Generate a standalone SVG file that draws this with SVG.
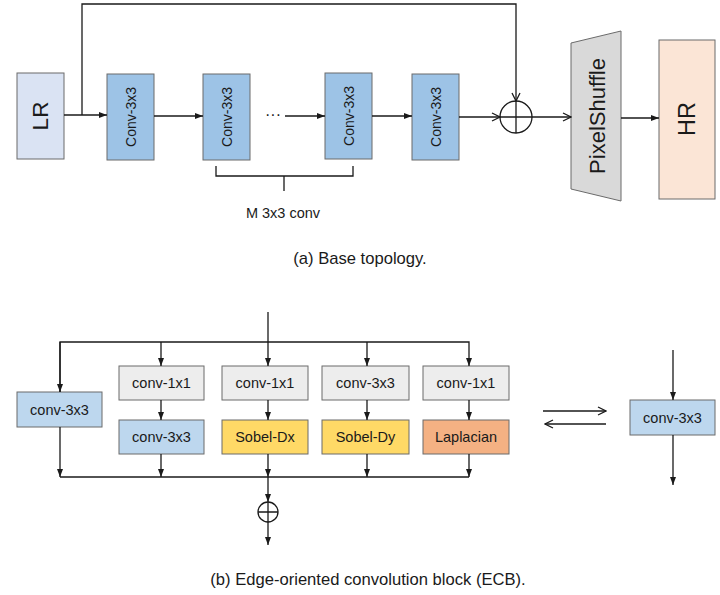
<svg xmlns="http://www.w3.org/2000/svg" width="720" height="595" viewBox="0 0 720 595">
<style>
.box{stroke:#6b6b6b;stroke-width:1}
.ln{fill:none;stroke:#1a1a1a;stroke-width:1.3}
.t{font-family:"Liberation Sans",Arial,sans-serif;fill:#1a1a1a;text-anchor:middle;dominant-baseline:central}
.s13{font-size:14.5px}
.v{font-size:14px}
.cap{font-family:"Liberation Sans",Arial,sans-serif;fill:#1a1a1a;text-anchor:middle;font-size:16.6px}
</style>
<defs>
<marker id="a" viewBox="0 0 8 6" refX="8" refY="3" markerWidth="8" markerHeight="6" markerUnits="userSpaceOnUse" orient="auto">
<path d="M0,0 L8,3 L0,6 Z" fill="#1a1a1a"/>
</marker>
<marker id="o" viewBox="0 0 10 10" refX="9" refY="5" markerWidth="10" markerHeight="10" markerUnits="userSpaceOnUse" orient="auto">
<path d="M1,1 L9,5 L1,9" fill="none" stroke="#1a1a1a" stroke-width="1.3"/>
</marker>
</defs>
<rect width="720" height="595" fill="#ffffff"/>

<!-- (a) -->
<g id="LR"><rect class="box" x="17" y="73" width="47" height="86" fill="#dae3f3"/>
<text class="t" font-size="22.5" transform="translate(40.5,116) rotate(-90)">LR</text></g>
<g id="conv1"><rect class="box" x="107" y="74" width="47" height="86" fill="#9dc3e6"/>
<text class="t v" transform="translate(130.5,117) rotate(-90)">Conv-3x3</text></g>
<g id="conv2"><rect class="box" x="203" y="74" width="47" height="86" fill="#9dc3e6"/>
<text class="t v" transform="translate(226.5,117) rotate(-90)">Conv-3x3</text></g>
<g id="conv3"><rect class="box" x="325" y="73" width="47" height="86" fill="#9dc3e6"/>
<text class="t v" transform="translate(348.5,116) rotate(-90)">Conv-3x3</text></g>
<g id="conv4"><rect class="box" x="412" y="74" width="47" height="86" fill="#9dc3e6"/>
<text class="t v" transform="translate(435.5,117) rotate(-90)">Conv-3x3</text></g>
<g id="add1"><circle cx="516" cy="117" r="16" fill="#fff" stroke="#1a1a1a" stroke-width="1.3"/>
<path class="ln" d="M500,117 H532 M516,101 V133"/></g>
<g id="pixelshuffle"><path class="box" d="M571,43 L621,31 L621,201 L571,189 Z" fill="#d9d9d9"/>
<text class="t" font-size="22" transform="translate(597,116) rotate(-90)">PixelShuffle</text></g>
<g id="HR"><rect class="box" x="659" y="40" width="56" height="159" fill="#fbe5d6"/>
<text class="t" font-size="23.5" transform="translate(687,119) rotate(-90)">HR</text></g>
<g id="brace"><path class="ln" d="M216,166 V176 H353 V166 M284,176 V191" stroke-width="1.2"/>
<text class="t" font-size="14.5" x="283" y="213">M 3x3 conv</text></g>
<text class="t" x="273" y="114" font-size="16">···</text>

<g id="connectors-a">
<path class="ln" d="M64,115 H107" marker-end="url(#a)"/>
<path class="ln" d="M82,115 V4 H516 V101" marker-end="url(#o)"/>
<path class="ln" d="M154,116 H203" marker-end="url(#a)"/>
<path class="ln" d="M285,116 H325" marker-end="url(#a)"/>
<path class="ln" d="M372,116 H412" marker-end="url(#a)"/>
<path class="ln" d="M459,117 H500" marker-end="url(#o)"/>
<path class="ln" d="M532,117 H571" marker-end="url(#o)"/>
<path class="ln" d="M621,118 H659" marker-end="url(#a)"/>
</g>
<text class="cap" x="360" y="264">(a) Base topology.</text>

<!-- (b) -->
<g id="leftconv"><rect class="box" x="17" y="392" width="85" height="35" fill="#bdd7ee"/>
<text class="t s13" x="59.5" y="409.5">conv-3x3</text></g>
<g id="g1"><rect class="box" x="119" y="366" width="85" height="34" fill="#ededed"/>
<text class="t s13" x="161.5" y="383">conv-1x1</text></g>
<g id="g2"><rect class="box" x="222" y="366" width="86" height="34" fill="#ededed"/>
<text class="t s13" x="265" y="383">conv-1x1</text></g>
<g id="g3"><rect class="box" x="322" y="366" width="87" height="34" fill="#ededed"/>
<text class="t s13" x="365.5" y="383">conv-3x3</text></g>
<g id="g4"><rect class="box" x="423" y="366" width="86" height="34" fill="#ededed"/>
<text class="t s13" x="466" y="383">conv-1x1</text></g>
<g id="b1"><rect class="box" x="119" y="420" width="85" height="34" fill="#bdd7ee"/>
<text class="t s13" x="161.5" y="437">conv-3x3</text></g>
<g id="b2"><rect class="box" x="222" y="420" width="86" height="34" fill="#ffd966"/>
<text class="t s13" x="265" y="437">Sobel-Dx</text></g>
<g id="b3"><rect class="box" x="322" y="420" width="87" height="34" fill="#ffd966"/>
<text class="t s13" x="365.5" y="437">Sobel-Dy</text></g>
<g id="b4"><rect class="box" x="423" y="420" width="86" height="34" fill="#f4b183"/>
<text class="t s13" x="466" y="437">Laplacian</text></g>
<g id="add2"><circle cx="268" cy="512" r="10" fill="#fff" stroke="#1a1a1a" stroke-width="1.3"/>
<path class="ln" d="M258,512 H278 M268,502 V522"/></g>
<g id="rightconv"><rect class="box" x="630" y="400" width="85" height="35" fill="#bdd7ee"/>
<text class="t s13" x="672.5" y="417.5">conv-3x3</text></g>

<g id="connectors-b">
<path class="ln" d="M268,312 V366" marker-end="url(#a)"/>
<path class="ln" d="M60,392 V342 H469 V366" marker-end="url(#a)"/>
<path class="ln" d="M60,342 V392" marker-end="url(#a)"/>
<path class="ln" d="M161,342 V366" marker-end="url(#a)"/>
<path class="ln" d="M367,342 V366" marker-end="url(#a)"/>
<path class="ln" d="M161,400 V420" marker-end="url(#a)"/>
<path class="ln" d="M268,400 V420" marker-end="url(#a)"/>
<path class="ln" d="M367,400 V420" marker-end="url(#a)"/>
<path class="ln" d="M469,400 V420" marker-end="url(#a)"/>
<path class="ln" d="M60,427 V477" marker-end="url(#a)"/>
<path class="ln" d="M161,454 V477" marker-end="url(#a)"/>
<path class="ln" d="M268,454 V477" marker-end="url(#a)"/>
<path class="ln" d="M367,454 V477" marker-end="url(#a)"/>
<path class="ln" d="M469,454 V477" marker-end="url(#a)"/>
<path class="ln" d="M60,477 H469"/>
<path class="ln" d="M268,477 V502" marker-end="url(#a)"/>
<path class="ln" d="M268,522 V545" marker-end="url(#a)"/>
<path class="ln" d="M543,411 H606" marker-end="url(#o)"/>
<path class="ln" d="M606,424 H545" marker-end="url(#o)"/>
<path class="ln" d="M673,350 V400" marker-end="url(#a)"/>
<path class="ln" d="M673,435 V485" marker-end="url(#a)"/>
</g>
<text class="cap" x="368" y="585">(b) Edge-oriented convolution block (ECB).</text>
</svg>
